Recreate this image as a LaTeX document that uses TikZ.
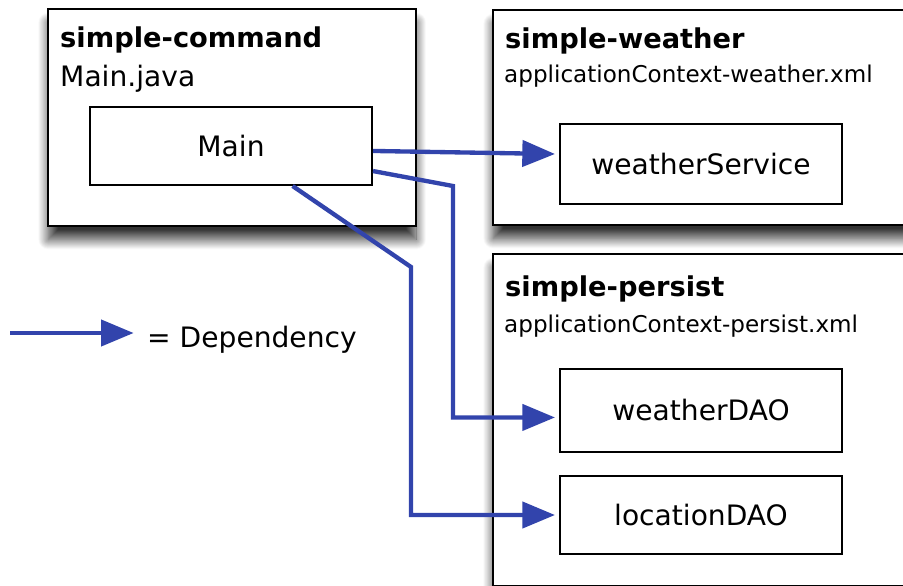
\documentclass[tikz,border=0pt]{standalone}
\usepackage{fontspec}
\setmainfont{DejaVu Sans}
\usetikzlibrary{arrows.meta}
\usetikzlibrary{shadows.blur}

\definecolor{depblue}{RGB}{50,68,172}
\tikzset{
  module/.style={draw, line width=0.07cm, fill=white, anchor=north west, inner sep=0pt,
    blur shadow={shadow xshift=0pt, shadow yshift=-0.4cm, shadow blur radius=0.3cm,
      shadow blur steps=20, shadow opacity=80}},
  bean/.style={draw, line width=0.06cm, fill=white, minimum width=8.46cm, minimum height=2.4cm,
    font=\fontsize{24}{28}\selectfont},
  modname/.style={anchor=base west, inner sep=0pt, font=\fontsize{23.3}{28}\selectfont\bfseries},
  modfile/.style={anchor=base west, inner sep=0pt, font=\fontsize{19.7}{24}\selectfont},
  dep/.style={draw=depblue, line width=0.13cm, -{Triangle[length=0.98cm, width=0.78cm]}, shorten >=0.12cm}
}

\begin{document}
\begin{tikzpicture}[x=0.03cm, y=-0.03cm]
\useasboundingbox (0,0) rectangle (903,585);
% modules
\node[module, minimum width=11.04cm, minimum height=6.51cm] (command) at (47,8) {};
\node[module, minimum width=12.6cm, minimum height=6.45cm] (weather) at (492,9) {};
\node[module, minimum width=12.6cm, minimum height=9.96cm] (persist) at (492,253) {};

\node[modname] (commandname) at (60,47) {simple-command};
\node[modfile, font=\fontsize{24}{28}\selectfont] (commandfile) at (60,86) {Main.java};
\node[modname] (weathername) at (505,48) {simple-weather};
\node[modfile] (weatherfile) at (504,82) {applicationContext-weather.xml};
\node[modname] (persistname) at (505,296) {simple-persist};
\node[modfile] (persistfile) at (504,332) {applicationContext-persist.xml};

% beans
\node[bean, minimum height=2.34cm] (main) at (231,146) {Main};
\node[bean] (service) at (701,164) {weatherService};
\node[bean, minimum height=2.49cm] (weatherdao) at (701,410) {weatherDAO};
\node[bean, minimum height=2.34cm] (locationdao) at (701,515) {locationDAO};

% dependencies
\coordinate (bend1) at (453,186);
\coordinate (bend2) at (411,267);
\draw[dep] (main.-2) -- (service.176);
\draw[dep] (main.-10) -- (bend1) |- (weatherdao.183);
\draw[dep] (main.-33) -- (bend2) |- (locationdao.west);

% legend
\coordinate (legend) at (10,333);
\node[anchor=base west, inner sep=0pt, font=\fontsize{24}{28}\selectfont] (legendtext) at (147,347) {= Dependency};
\draw[dep, shorten >=0.4cm] (legend) -- (legend -| legendtext.west);
\end{tikzpicture}
\end{document}
